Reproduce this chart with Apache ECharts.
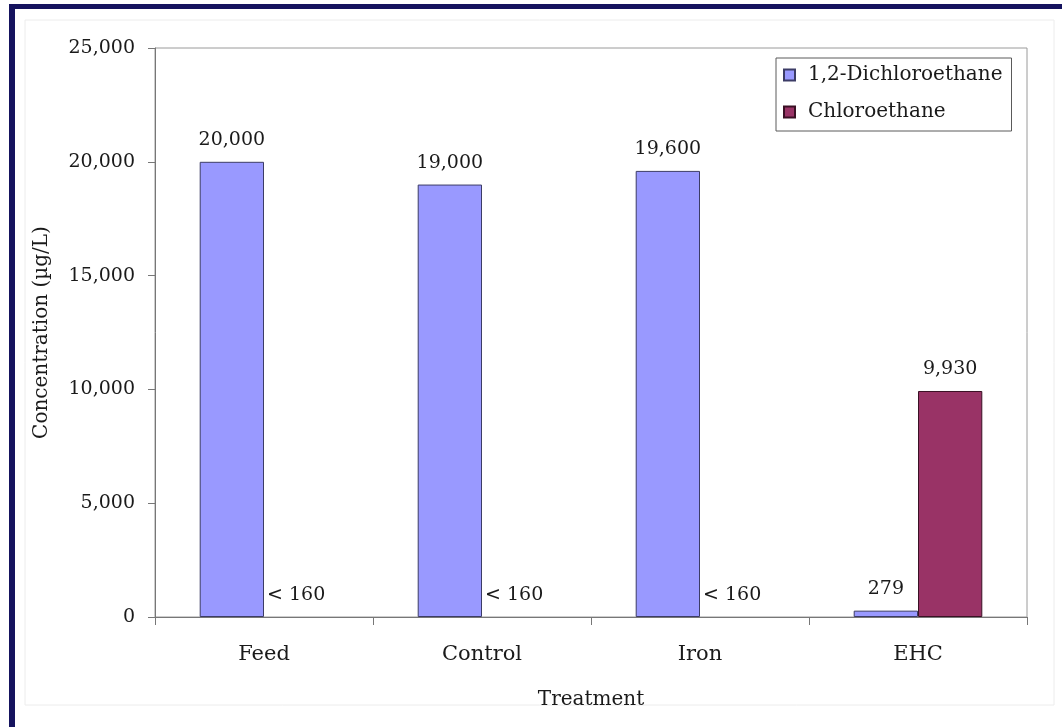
<!DOCTYPE html>
<html>
<head>
<meta charset="utf-8">
<script src="https://cdn.jsdelivr.net/npm/echarts@6/dist/echarts.min.js"></script>
<style>
  html, body { margin: 0; padding: 0; background: #ffffff; }
  #chart { width: 1062px; height: 727px; }
</style>
</head>
<body>
<div id="chart"></div>
<script>
// Treatments along the x axis
const treatments = ['Feed', 'Control', 'Iron', 'EHC'];

// Measured concentrations (µg/L)
const dichloroethane = [20000, 19000, 19600, 279];
const chloroethane = [0, 0, 0, 9930];

// Chloroethane below the reporting limit in these treatments
const chloroNonDetect = [true, true, true, false];
const reportingLimit = 160;

// Value axis ticks
const yMin = 0;
const yMax = 25000;
const yStep = 5000;

const seriesNames = ['1,2-Dichloroethane', 'Chloroethane'];

const FONT = 'DejaVu Serif';
const TEXT = '#1a1a1a';

const fmt = v => Number(v).toLocaleString('en-US');

// non-detects get no outline so nothing is drawn on the baseline
const chloroData = chloroethane.map((v, i) =>
  chloroNonDetect[i] ? { value: v, itemStyle: { borderWidth: 0 } } : v);

const chart = echarts.init(document.getElementById('chart'), null, { renderer: 'canvas' });

chart.setOption({
  animation: false,
  backgroundColor: '#ffffff',
  textStyle: { fontFamily: FONT, color: TEXT },
  graphic: [
    // faint outline of the chart area
    { type: 'rect', shape: { x: 25, y: 20, width: 1029, height: 685 },
      style: { fill: 'none', stroke: '#ececec', lineWidth: 1 }, z: -1 },
    // dark frame edges
    { type: 'rect', shape: { x: 9, y: 4, width: 6, height: 723 },
      style: { fill: '#15135e' }, z: 10 },
    { type: 'rect', shape: { x: 9, y: 4, width: 1053, height: 5 },
      style: { fill: '#15135e' }, z: 10 }
  ],
  grid: {
    left: 155, top: 48, right: 35, bottom: 110,
    show: true, borderColor: '#9a9a9a', borderWidth: 1,
    backgroundColor: '#ffffff'
  },
  legend: {
    data: seriesNames.map(n => ({ name: n, icon: 'rect' })),
    orient: 'vertical',
    left: 776, top: 58,
    padding: [5, 9, 7, 7],
    itemWidth: 11, itemHeight: 11,
    itemGap: 13,
    backgroundColor: '#ffffff',
    borderColor: '#5a5a5a', borderWidth: 1,
    textStyle: { fontFamily: FONT, fontSize: 20, color: TEXT, lineHeight: 24, padding: [0, 0, 0, 8] }
  },
  xAxis: {
    type: 'category',
    data: treatments,
    name: 'Treatment',
    nameLocation: 'middle',
    nameGap: 73,
    nameTextStyle: { fontFamily: FONT, fontSize: 20, color: TEXT },
    axisLine: { lineStyle: { color: '#777777', width: 1 } },
    axisTick: { show: true, alignWithLabel: false, length: 8, lineStyle: { color: '#777777' } },
    axisLabel: { margin: 27, fontFamily: FONT, fontSize: 21, color: TEXT }
  },
  yAxis: {
    type: 'value',
    min: yMin, max: yMax, interval: yStep,
    name: 'Concentration (µg/L)',
    nameLocation: 'middle',
    nameRotate: 90,
    nameGap: 103,
    nameTextStyle: { fontFamily: FONT, fontSize: 20, color: TEXT },
    splitLine: { show: false },
    axisLine: { show: true, lineStyle: { color: '#777777', width: 1 } },
    axisTick: { show: true, length: 7, lineStyle: { color: '#777777' } },
    axisLabel: { margin: 20, fontFamily: FONT, fontSize: 19, color: TEXT, formatter: v => fmt(v) }
  },
  series: [
    {
      name: seriesNames[0],
      type: 'bar',
      data: dichloroethane,
      barGap: '0%',
      barCategoryGap: '41%',
      itemStyle: { color: '#9999ff', borderColor: '#3c3c66', borderWidth: 1 },
      label: {
        show: true, position: 'top', distance: 12,
        fontFamily: FONT, fontSize: 19, color: TEXT,
        formatter: p => fmt(p.value)
      }
    },
    {
      name: seriesNames[1],
      type: 'bar',
      data: chloroData,
      barGap: '0%',
      barCategoryGap: '41%',
      itemStyle: { color: '#993366', borderColor: '#3a1024', borderWidth: 1 },
      label: {
        show: true, position: 'top', distance: 12,
        fontFamily: FONT, fontSize: 19, color: TEXT,
        formatter: p => chloroNonDetect[p.dataIndex] ? '< ' + reportingLimit : fmt(p.value)
      }
    }
  ]
});
</script>
</body>
</html>
